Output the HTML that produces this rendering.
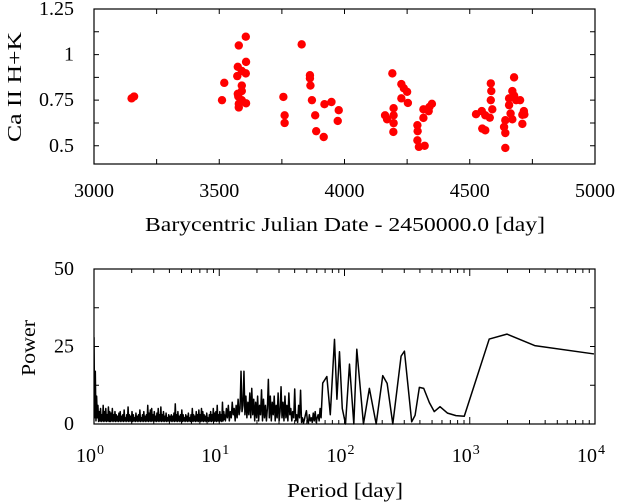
<!DOCTYPE html>
<html><head><meta charset="utf-8"><style>
html,body{margin:0;padding:0;background:#fff;}
svg{display:block;font-family:"Liberation Serif",serif;}
</style></head><body>
<svg id="chart" width="617" height="504" viewBox="0 0 617 504" xmlns="http://www.w3.org/2000/svg">
<defs><clipPath id="clipB"><rect x="94" y="269" width="501" height="160"/></clipPath></defs>
<g id="topPanel"></g>
<g id="botPanel"></g>
</svg>
<script>
const dates=[3150,3160,3511,3520,3578,3606,3607,3574,3606,3572,3590,3590,3590,3576,3578,3578,3607,3590,3574,3756,3761,3761,3829,3862,3862,3864,3870,3883,3887,3917,3920,3948,3977,3973,4191,4162,4170,4196,4196,4196,4195,4227,4237,4250,4227,4253,4291,4292,4291,4297,4320,4315,4315,4339,4349,4336,4525,4548,4550,4562,4562,4584,4586,4584,4590,4580,4637,4642,4642,4642,4677,4670,4677,4657,4657,4663,4670,4685,4701,4716,4710,4710,4718];
const caValues=[0.76,0.77,0.75,0.845,1.05,1.098,0.96,0.933,0.897,0.882,0.91,0.83,0.80,0.77,0.73,0.71,0.733,0.75,0.785,0.768,0.667,0.625,1.056,0.887,0.87,0.83,0.75,0.667,0.58,0.548,0.728,0.74,0.695,0.636,0.897,0.667,0.645,0.706,0.667,0.624,0.576,0.838,0.815,0.796,0.76,0.735,0.613,0.58,0.53,0.494,0.5,0.70,0.653,0.713,0.73,0.69,0.673,0.69,0.594,0.585,0.667,0.842,0.80,0.75,0.70,0.654,0.603,0.57,0.488,0.64,0.875,0.80,0.775,0.76,0.723,0.677,0.645,0.75,0.75,0.69,0.67,0.62,0.672];
const topXTicks=[3000,3500,4000,4500,5000];
const topXTickLabels=["3000","3500","4000","4500","5000"];
const topYTicks=[0.5,0.75,1,1.25];
const topYTickLabels=["0.5","0.75","1","1.25"];
const noiseLow=[28,2,17,1,9,2,6,0.5,4,1,5,0.5,3,1,6,0.8,4,1,5,0.5,
3,1,5.5,0.8,4,0.5,3.5,1,5,0.5,3,1,4,0.6,3,1,2.5,0.5,3.5,1,
4,0.5,2.5,1,3,0.4,4.5,1,2,0.6,3,1,5.5,0.5,3,1,2.5,0.8,4,0.5,
3,1,2,0.5,3.5,1,2.5,0.4,3,1,4.5,0.6,2,1,3,0.5,4,1,2.5,0.5,
3,1,6,0.5,3.5,1,4.5,0.4,5,1,3,0.6,4,1,2.5,0.5,3.5,1,5,0.5,
3,1,5.5,0.5,3,1,4,0.4,2.5,1,3.5,0.6,2,1,3,0.5,2.5,1,3,0.5,
2.5,1,3.5,0.5,6.5,1,3,0.4,4,1,2.5,0.6,3,1,4.5,0.5,3,1,2,0.5,
3,1,2.5,0.5,3.5,1,2,0.4,3,1,5,0.6,3,1,2.5,0.5,4,1,3,0.5,
4.5,1,3,0.5,5,1,4,0.4,3,1,2.5,0.6,3.5,1,2,0.5,3,1,4,0.5,
3,1,5,0.5,3.5,1,4,0.4,6,1,3,0.6,4,1,3,0.5,7,1,4,1.5];
const noiseMid=[3,1,5,2,6,1,4,2,7,3,5,1,6,2,8,3,5,17,4,6,17,3,9,2,7,3,10,2,11.5,3,8,1,7,2,9,1,6,3,11,1,8,2,6,1,5,14.4,2,9,1,7,3,9,1,6,2,10,1,4,12,2,7,1,9,2,6,1,10,3,5,1,4,2,11.3,1,3,0.5,6,2,10.9,0.5,2,0.3,1.5,3,4.3,1,0.3,3,1,2,0.5,3.5,1,4,0.5,2,3,1,5,2];
const longPeriods=[67,72.3,77,83.2,87,91.2,96,101.9,109.6,118.7,125.4,141.7,158,179,202,219,243,283,301,344,366,396,429,476,521,579,665,776,904,1430,1980,3300,9810];
const longPowers=[13.2,15.3,3,27.3,8,23.3,5,0,19.3,0,24.1,0,11.5,0,15.6,13.1,0,21.9,23.5,0.7,2.8,11.8,11.5,6.9,4.0,5.6,3.5,2.7,2.5,27.4,29,25.3,22.6];
const botYTicks=[0,25,50];
const botYTickLabels=["0","25","50"];
const botXExps=[0,1,2,3,4];

const NS="http://www.w3.org/2000/svg";
function mk(parent,tag,attrs){const e=document.createElementNS(NS,tag);for(const k in attrs)e.setAttribute(k,attrs[k]);parent.appendChild(e);return e;}
const L=94,R=595;
const tT=9,tB=164,bT=269,bB=424;
const FS=20;
const xTop=d=>L+(d-3000)/2000*(R-L);
const yTop=v=>tB-(v-0.4)/(1.25-0.4)*(tB-tT);
const xBot=p=>L+Math.log10(p)/4*(R-L);
const yBot=v=>bB-v/50*(bB-bT);
const topG=document.getElementById('topPanel'),botG=document.getElementById('botPanel');

let f=mk(topG,'rect',{x:L,y:tT,width:R-L,height:tB-tT,fill:'none',stroke:'#000','stroke-width':1.2});


for(let d=3000;d<=5000;d+=250){const x=xTop(d);
 let t=mk(topG,'path',{d:`M${x},${tB}v-5M${x},${tT}v5`,stroke:'#000','stroke-width':1});
 
 }
for(let v=0.5;v<=1.2;v+=0.125){const y=yTop(v);
 let t=mk(topG,'path',{d:`M${L},${y}h5M${R},${y}h-5`,stroke:'#000','stroke-width':1});
 
 }
topXTicks.forEach((d,i)=>{let t=mk(topG,'text',{x:xTop(d),y:197,'font-size':FS,'text-anchor':'middle'});t.textContent=topXTickLabels[i];
 
 });
topYTicks.forEach((v,i)=>{let t=mk(topG,'text',{x:74,y:yTop(v)+6,'font-size':FS,'text-anchor':'end'});t.textContent=topYTickLabels[i];
 
 });
let xt=mk(topG,'text',{x:145,y:231,'font-size':FS,textLength:400,lengthAdjust:'spacingAndGlyphs'});xt.textContent='Barycentric Julian Date - 2450000.0 [day]';


let yt=mk(topG,'text',{x:0,y:0,'font-size':FS,textLength:110,lengthAdjust:'spacingAndGlyphs',transform:'translate(21,142) rotate(-90)'});yt.textContent='Ca II H+K';


dates.forEach((d,i)=>{let c=mk(topG,'circle',{cx:xTop(d),cy:yTop(caValues[i]),r:4.2,fill:'#ff0000'});
 
 });

let pts=[];
noiseLow.forEach((v,i)=>pts.push([Math.pow(11,i/(noiseLow.length-1)),Math.max(v,0.8)]));
noiseMid.forEach((v,i)=>pts.push([11*Math.pow(65/11,i/(noiseMid.length-1)),v]));
longPeriods.forEach((p,i)=>pts.push([p,longPowers[i]]));
let dstr=pts.map((p,i)=>(i?'L':'M')+xBot(p[0]).toFixed(2)+','+yBot(p[1]).toFixed(2)).join('');
let ln=mk(botG,'path',{d:dstr,fill:'none',stroke:'#000','stroke-width':1.5,'stroke-linejoin':'round','clip-path':'url(#clipB)'});


let f2=mk(botG,'rect',{x:L,y:bT,width:R-L,height:bB-bT,fill:'none',stroke:'#000','stroke-width':1.2});


for(let e=0;e<4;e++)for(let m=1;m<10;m++){const x=xBot(m*Math.pow(10,e));const len=m===1?7:4;
 let t=mk(botG,'path',{d:`M${x},${bB}v-${len}M${x},${bT}v${len}`,stroke:'#000','stroke-width':1});
 
 }
for(let v=12.5;v<50;v+=12.5){const y=yBot(v);
 let t=mk(botG,'path',{d:`M${L},${y}h5M${R},${y}h-5`,stroke:'#000','stroke-width':1});
 
 }
botXExps.forEach(e=>{let t=mk(botG,'text',{x:xBot(Math.pow(10,e))-4,y:462,'font-size':FS,'text-anchor':'middle'});
 t.textContent='10';
 let s=mk(t,'tspan',{dx:1,dy:-8,'font-size':14});s.textContent=String(e);
 
 });
botYTicks.forEach((v,i)=>{let t=mk(botG,'text',{x:74,y:yBot(v)+6,'font-size':FS,'text-anchor':'end'});t.textContent=botYTickLabels[i];
 
 });
let xt2=mk(botG,'text',{x:287,y:497,'font-size':FS,textLength:116,lengthAdjust:'spacingAndGlyphs'});xt2.textContent='Period [day]';


let yt2=mk(botG,'text',{x:0,y:0,'font-size':FS,textLength:56,lengthAdjust:'spacingAndGlyphs',transform:'translate(35,376) rotate(-90)'});yt2.textContent='Power';


</script>
</body></html>
